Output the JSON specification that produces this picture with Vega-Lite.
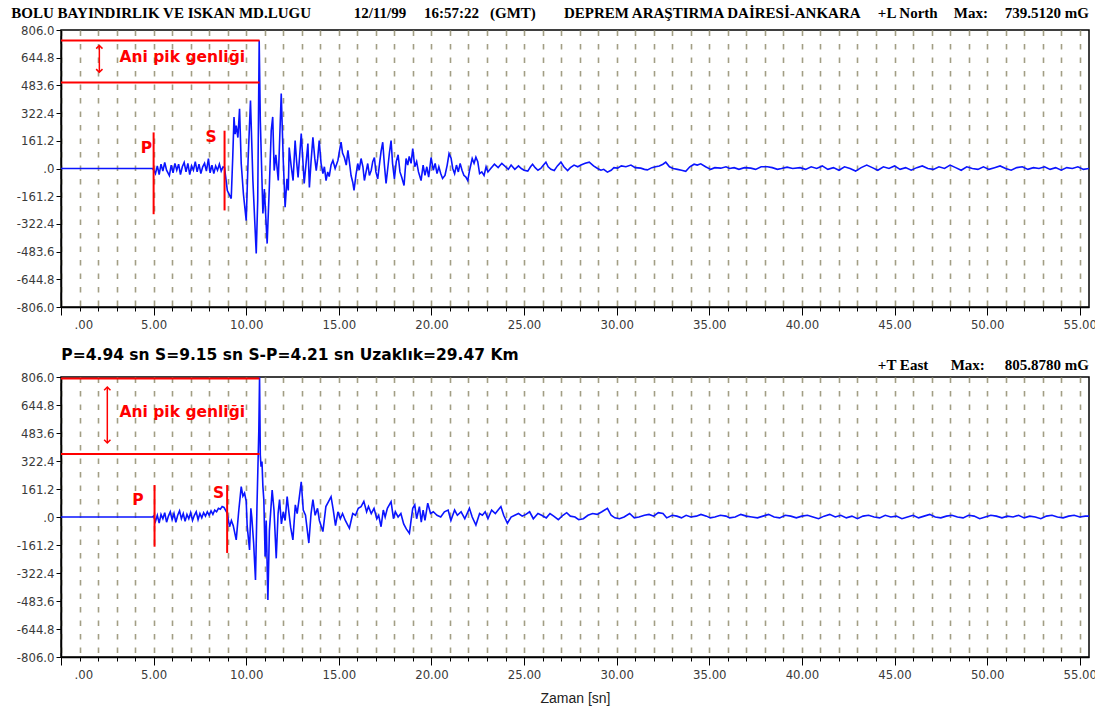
{
"$schema": "https://vega.github.io/schema/vega-lite/v6.json",
"background": "white",
"padding": {"left": 10, "top": 5, "right": 6, "bottom": 5},
"spacing": 70,
"bounds": "flush",
"config": {
  "view": {"stroke": "#000", "strokeWidth": 1.5},
  "axis": {"domainColor": "#000", "domainWidth": 1.5, "tickColor": "#000", "tickWidth": 1, "labelFont": "'Liberation Sans Narrow', 'DejaVu Sans Condensed', sans-serif", "labelFontSize": 13, "labelColor": "#3a3a3a", "labelOverlap": false, "tickCount": 200}
},
"datasets": {
"north": [{"t":0,"v":0},{"t":4.94,"v":0},{"t":5.0,"v":-8},{"t":5.1,"v":-30},{"t":5.2,"v":15},{"t":5.3,"v":-35},{"t":5.4,"v":25},{"t":5.5,"v":-15},{"t":5.6,"v":35},{"t":5.7,"v":-10},{"t":5.85,"v":-41},{"t":5.95,"v":20},{"t":6.05,"v":-25},{"t":6.15,"v":30},{"t":6.25,"v":-10},{"t":6.35,"v":25},{"t":6.45,"v":-35},{"t":6.55,"v":10},{"t":6.65,"v":35},{"t":6.75,"v":-20},{"t":6.85,"v":30},{"t":6.95,"v":-35},{"t":7.05,"v":15},{"t":7.15,"v":-10},{"t":7.25,"v":40},{"t":7.35,"v":-20},{"t":7.45,"v":25},{"t":7.55,"v":-30},{"t":7.65,"v":10},{"t":7.75,"v":30},{"t":7.85,"v":-15},{"t":7.96,"v":58},{"t":8.05,"v":-25},{"t":8.15,"v":20},{"t":8.25,"v":-30},{"t":8.35,"v":15},{"t":8.45,"v":-10},{"t":8.55,"v":25},{"t":8.65,"v":-15},{"t":8.75,"v":10},{"t":8.83,"v":5},{"t":8.98,"v":-128},{"t":9.19,"v":-175},{"t":9.27,"v":60},{"t":9.34,"v":299},{"t":9.4,"v":200},{"t":9.46,"v":250},{"t":9.55,"v":180},{"t":9.64,"v":347},{"t":9.73,"v":29},{"t":9.85,"v":-150},{"t":10.0,"v":-303},{"t":10.1,"v":47},{"t":10.23,"v":396},{"t":10.36,"v":-70},{"t":10.54,"v":-495},{"t":10.62,"v":-186},{"t":10.7,"v":745},{"t":10.76,"v":279},{"t":10.9,"v":-262},{"t":10.98,"v":-120},{"t":11.13,"v":-437},{"t":11.25,"v":-100},{"t":11.35,"v":221},{"t":11.43,"v":300},{"t":11.51,"v":-12},{"t":11.6,"v":80},{"t":11.73,"v":-70},{"t":11.89,"v":436},{"t":12.0,"v":47},{"t":12.1,"v":-225},{"t":12.2,"v":-60},{"t":12.27,"v":-128},{"t":12.32,"v":122},{"t":12.42,"v":20},{"t":12.53,"v":-70},{"t":12.64,"v":163},{"t":12.72,"v":40},{"t":12.8,"v":-52},{"t":12.97,"v":204},{"t":13.05,"v":60},{"t":13.13,"v":-87},{"t":13.23,"v":30},{"t":13.33,"v":145},{"t":13.41,"v":-110},{"t":13.5,"v":40},{"t":13.6,"v":182},{"t":13.7,"v":60},{"t":13.78,"v":-12},{"t":13.86,"v":60},{"t":13.94,"v":163},{"t":14.04,"v":30},{"t":14.14,"v":-29},{"t":14.22,"v":10},{"t":14.31,"v":-70},{"t":14.4,"v":-20},{"t":14.48,"v":-47},{"t":14.58,"v":20},{"t":14.68,"v":47},{"t":14.8,"v":0},{"t":14.95,"v":47},{"t":15.03,"v":100},{"t":15.12,"v":153},{"t":15.2,"v":90},{"t":15.3,"v":64},{"t":15.4,"v":20},{"t":15.49,"v":105},{"t":15.58,"v":30},{"t":15.66,"v":-41},{"t":15.75,"v":-80},{"t":15.82,"v":-128},{"t":15.92,"v":-40},{"t":16.02,"v":29},{"t":16.1,"v":-10},{"t":16.2,"v":58},{"t":16.3,"v":10},{"t":16.38,"v":-70},{"t":16.47,"v":-20},{"t":16.56,"v":29},{"t":16.65,"v":-40},{"t":16.75,"v":-10},{"t":16.83,"v":40},{"t":16.92,"v":64},{"t":17.0,"v":-20},{"t":17.1,"v":-60},{"t":17.2,"v":30},{"t":17.28,"v":100},{"t":17.37,"v":153},{"t":17.46,"v":20},{"t":17.55,"v":-87},{"t":17.64,"v":0},{"t":17.73,"v":90},{"t":17.82,"v":163},{"t":17.9,"v":30},{"t":18.0,"v":-60},{"t":18.1,"v":40},{"t":18.2,"v":80},{"t":18.3,"v":-20},{"t":18.4,"v":-52},{"t":18.52,"v":-99},{"t":18.63,"v":58},{"t":18.72,"v":20},{"t":18.8,"v":70},{"t":18.9,"v":30},{"t":18.99,"v":116},{"t":19.1,"v":10},{"t":19.2,"v":40},{"t":19.3,"v":-20},{"t":19.44,"v":-70},{"t":19.55,"v":20},{"t":19.65,"v":-40},{"t":19.75,"v":10},{"t":19.85,"v":-50},{"t":19.98,"v":64},{"t":20.1,"v":-10},{"t":20.2,"v":30},{"t":20.3,"v":-30},{"t":20.4,"v":10},{"t":20.5,"v":-29},{"t":20.6,"v":-58},{"t":20.73,"v":-40},{"t":20.85,"v":20},{"t":20.95,"v":87},{"t":21.06,"v":60},{"t":21.15,"v":0},{"t":21.25,"v":-30},{"t":21.35,"v":20},{"t":21.45,"v":-20},{"t":21.55,"v":30},{"t":21.65,"v":-10},{"t":21.75,"v":-40},{"t":21.86,"v":-50},{"t":21.96,"v":-70},{"t":22.06,"v":-10},{"t":22.2,"v":58},{"t":22.3,"v":30},{"t":22.4,"v":66},{"t":22.5,"v":40},{"t":22.6,"v":-30},{"t":22.72,"v":-20},{"t":22.84,"v":-41},{"t":22.95,"v":10},{"t":23.05,"v":-20},{"t":23.2,"v":0},{"t":23.4,"v":25},{"t":23.6,"v":5},{"t":23.8,"v":30},{"t":24.0,"v":10},{"t":24.15,"v":-5},{"t":24.3,"v":20},{"t":24.5,"v":-5},{"t":24.7,"v":15},{"t":24.85,"v":0},{"t":25.0,"v":-10},{"t":25.2,"v":-15},{"t":25.35,"v":10},{"t":25.46,"v":25},{"t":25.6,"v":5},{"t":25.75,"v":-10},{"t":25.9,"v":0},{"t":26.05,"v":20},{"t":26.18,"v":37},{"t":26.3,"v":10},{"t":26.45,"v":-5},{"t":26.63,"v":-12},{"t":26.8,"v":15},{"t":26.99,"v":37},{"t":27.15,"v":10},{"t":27.35,"v":-12},{"t":27.5,"v":5},{"t":27.7,"v":20},{"t":27.9,"v":10},{"t":28.07,"v":20},{"t":28.3,"v":30},{"t":28.52,"v":37},{"t":28.75,"v":15},{"t":28.97,"v":0},{"t":29.15,"v":-10},{"t":29.3,"v":-5},{"t":29.5,"v":-21},{"t":29.7,"v":-10},{"t":29.85,"v":5},{"t":30.05,"v":2},{"t":30.25,"v":15},{"t":30.5,"v":10},{"t":30.77,"v":20},{"t":31.0,"v":5},{"t":31.3,"v":2},{"t":31.5,"v":-5},{"t":31.66,"v":-8},{"t":31.9,"v":5},{"t":32.1,"v":10},{"t":32.3,"v":15},{"t":32.5,"v":25},{"t":32.65,"v":37},{"t":32.85,"v":10},{"t":33.05,"v":0},{"t":33.28,"v":-5},{"t":33.5,"v":-10},{"t":33.73,"v":-16},{"t":33.95,"v":10},{"t":34.18,"v":25},{"t":34.35,"v":20},{"t":34.54,"v":27},{"t":34.8,"v":10},{"t":35.08,"v":-5},{"t":35.3,"v":5},{"t":35.62,"v":2},{"t":35.9,"v":10},{"t":36.1,"v":0},{"t":36.34,"v":5},{"t":36.6,"v":-5},{"t":36.9,"v":5},{"t":37.24,"v":2},{"t":37.5,"v":-5},{"t":37.8,"v":10},{"t":38.14,"v":10},{"t":38.4,"v":5},{"t":38.68,"v":-5},{"t":38.9,"v":0},{"t":39.2,"v":8},{"t":39.5,"v":0},{"t":39.9,"v":5},{"t":40.2,"v":-5},{"t":40.5,"v":10},{"t":40.8,"v":0},{"t":41.1,"v":15},{"t":41.4,"v":-5},{"t":41.7,"v":5},{"t":42.0,"v":-10},{"t":42.3,"v":10},{"t":42.6,"v":0},{"t":42.9,"v":-15},{"t":43.2,"v":5},{"t":43.5,"v":20},{"t":43.8,"v":5},{"t":44.1,"v":-10},{"t":44.4,"v":10},{"t":44.7,"v":0},{"t":45.0,"v":15},{"t":45.3,"v":-5},{"t":45.6,"v":5},{"t":45.9,"v":-10},{"t":46.2,"v":5},{"t":46.5,"v":15},{"t":46.8,"v":0},{"t":47.1,"v":-5},{"t":47.4,"v":10},{"t":47.7,"v":0},{"t":48.0,"v":20},{"t":48.3,"v":5},{"t":48.6,"v":-10},{"t":48.9,"v":10},{"t":49.2,"v":0},{"t":49.5,"v":-5},{"t":49.8,"v":10},{"t":50.1,"v":-5},{"t":50.4,"v":5},{"t":50.7,"v":15},{"t":51.0,"v":0},{"t":51.3,"v":-10},{"t":51.6,"v":5},{"t":51.9,"v":10},{"t":52.2,"v":-5},{"t":52.5,"v":5},{"t":52.8,"v":0},{"t":53.1,"v":10},{"t":53.4,"v":-5},{"t":53.7,"v":5},{"t":54.0,"v":-10},{"t":54.3,"v":5},{"t":54.6,"v":0},{"t":54.9,"v":10},{"t":55.2,"v":-5},{"t":55.5,"v":0}],
"east": [{"t":0,"v":0},{"t":4.94,"v":0},{"t":5.0,"v":5},{"t":5.1,"v":-25},{"t":5.2,"v":10},{"t":5.3,"v":-35},{"t":5.4,"v":15},{"t":5.5,"v":-10},{"t":5.6,"v":25},{"t":5.7,"v":-30},{"t":5.8,"v":5},{"t":5.9,"v":30},{"t":6.0,"v":-15},{"t":6.1,"v":20},{"t":6.2,"v":-30},{"t":6.3,"v":10},{"t":6.4,"v":35},{"t":6.5,"v":-10},{"t":6.6,"v":20},{"t":6.7,"v":-25},{"t":6.8,"v":15},{"t":6.9,"v":-10},{"t":7.0,"v":25},{"t":7.1,"v":-20},{"t":7.2,"v":10},{"t":7.3,"v":30},{"t":7.4,"v":-15},{"t":7.5,"v":20},{"t":7.6,"v":-5},{"t":7.7,"v":25},{"t":7.8,"v":5},{"t":7.9,"v":30},{"t":8.0,"v":10},{"t":8.1,"v":35},{"t":8.2,"v":15},{"t":8.3,"v":40},{"t":8.4,"v":30},{"t":8.5,"v":50},{"t":8.6,"v":45},{"t":8.7,"v":60},{"t":8.8,"v":55},{"t":8.97,"v":23},{"t":9.1,"v":-56},{"t":9.2,"v":-20},{"t":9.3,"v":-50},{"t":9.46,"v":-132},{"t":9.6,"v":40},{"t":9.73,"v":175},{"t":9.82,"v":120},{"t":9.91,"v":138},{"t":10.0,"v":90},{"t":10.05,"v":-50},{"t":10.18,"v":-190},{"t":10.25,"v":50},{"t":10.3,"v":0},{"t":10.4,"v":-150},{"t":10.5,"v":-363},{"t":10.58,"v":60},{"t":10.68,"v":500},{"t":10.72,"v":806},{"t":10.76,"v":357},{"t":10.8,"v":290},{"t":10.85,"v":320},{"t":10.9,"v":175},{"t":10.95,"v":100},{"t":11.02,"v":-228},{"t":11.08,"v":-20},{"t":11.17,"v":-478},{"t":11.25,"v":-80},{"t":11.4,"v":155},{"t":11.5,"v":40},{"t":11.62,"v":-238},{"t":11.72,"v":20},{"t":11.8,"v":100},{"t":11.9,"v":-40},{"t":12.0,"v":30},{"t":12.1,"v":-20},{"t":12.21,"v":117},{"t":12.3,"v":30},{"t":12.4,"v":-60},{"t":12.52,"v":-132},{"t":12.65,"v":70},{"t":12.75,"v":20},{"t":12.85,"v":100},{"t":12.97,"v":203},{"t":13.08,"v":40},{"t":13.2,"v":10},{"t":13.38,"v":-150},{"t":13.5,"v":20},{"t":13.6,"v":100},{"t":13.72,"v":10},{"t":13.85,"v":50},{"t":13.95,"v":-20},{"t":14.14,"v":-84},{"t":14.3,"v":60},{"t":14.45,"v":90},{"t":14.58,"v":117},{"t":14.7,"v":40},{"t":14.82,"v":-50},{"t":14.95,"v":30},{"t":15.08,"v":-10},{"t":15.2,"v":20},{"t":15.35,"v":-20},{"t":15.57,"v":-65},{"t":15.75,"v":20},{"t":15.9,"v":10},{"t":16.05,"v":50},{"t":16.2,"v":60},{"t":16.35,"v":90},{"t":16.5,"v":30},{"t":16.6,"v":60},{"t":16.75,"v":20},{"t":16.9,"v":50},{"t":17.05,"v":-10},{"t":17.15,"v":10},{"t":17.28,"v":-56},{"t":17.4,"v":40},{"t":17.5,"v":0},{"t":17.62,"v":50},{"t":17.82,"v":88},{"t":17.95,"v":-10},{"t":18.05,"v":30},{"t":18.2,"v":0},{"t":18.35,"v":20},{"t":18.5,"v":-40},{"t":18.65,"v":-70},{"t":18.81,"v":-94},{"t":18.9,"v":-20},{"t":18.99,"v":50},{"t":19.1,"v":70},{"t":19.2,"v":-10},{"t":19.35,"v":60},{"t":19.45,"v":-30},{"t":19.55,"v":40},{"t":19.65,"v":-20},{"t":19.8,"v":80},{"t":19.95,"v":20},{"t":20.1,"v":30},{"t":20.3,"v":10},{"t":20.5,"v":0},{"t":20.7,"v":30},{"t":20.9,"v":40},{"t":21.05,"v":-20},{"t":21.25,"v":40},{"t":21.4,"v":10},{"t":21.6,"v":30},{"t":21.8,"v":-10},{"t":22.05,"v":50},{"t":22.2,"v":0},{"t":22.4,"v":-46},{"t":22.6,"v":20},{"t":22.75,"v":10},{"t":22.9,"v":30},{"t":23.05,"v":-10},{"t":23.25,"v":40},{"t":23.45,"v":20},{"t":23.6,"v":40},{"t":23.75,"v":60},{"t":23.9,"v":10},{"t":24.1,"v":-36},{"t":24.3,"v":0},{"t":24.5,"v":10},{"t":24.7,"v":20},{"t":24.9,"v":5},{"t":25.1,"v":15},{"t":25.3,"v":30},{"t":25.5,"v":-10},{"t":25.75,"v":20},{"t":25.95,"v":10},{"t":26.2,"v":-5},{"t":26.4,"v":20},{"t":26.6,"v":5},{"t":26.85,"v":-15},{"t":27.1,"v":10},{"t":27.3,"v":25},{"t":27.5,"v":5},{"t":27.75,"v":0},{"t":27.95,"v":-15},{"t":28.2,"v":-10},{"t":28.45,"v":10},{"t":28.7,"v":20},{"t":28.95,"v":15},{"t":29.2,"v":30},{"t":29.5,"v":50},{"t":29.7,"v":10},{"t":29.9,"v":-5},{"t":30.15,"v":-10},{"t":30.4,"v":0},{"t":30.7,"v":20},{"t":30.95,"v":-5},{"t":31.2,"v":0},{"t":31.5,"v":10},{"t":31.75,"v":15},{"t":32.0,"v":5},{"t":32.25,"v":25},{"t":32.5,"v":20},{"t":32.7,"v":-5},{"t":33.0,"v":10},{"t":33.25,"v":5},{"t":33.5,"v":-5},{"t":33.75,"v":10},{"t":34.0,"v":0},{"t":34.3,"v":5},{"t":34.55,"v":15},{"t":34.85,"v":5},{"t":35.05,"v":-5},{"t":35.3,"v":0},{"t":35.6,"v":10},{"t":35.9,"v":5},{"t":36.1,"v":-5},{"t":36.4,"v":0},{"t":36.7,"v":15},{"t":37.0,"v":5},{"t":37.3,"v":0},{"t":37.6,"v":-5},{"t":37.9,"v":5},{"t":38.2,"v":15},{"t":38.5,"v":0},{"t":38.8,"v":-5},{"t":39.1,"v":10},{"t":39.4,"v":5},{"t":39.7,"v":-5},{"t":40.0,"v":5},{"t":40.3,"v":10},{"t":40.6,"v":0},{"t":40.9,"v":-10},{"t":41.2,"v":5},{"t":41.5,"v":15},{"t":41.8,"v":0},{"t":42.1,"v":10},{"t":42.4,"v":-5},{"t":42.7,"v":5},{"t":43.0,"v":-10},{"t":43.3,"v":5},{"t":43.6,"v":10},{"t":43.9,"v":0},{"t":44.2,"v":-5},{"t":44.5,"v":10},{"t":44.8,"v":0},{"t":45.1,"v":5},{"t":45.4,"v":-10},{"t":45.7,"v":0},{"t":46.0,"v":10},{"t":46.3,"v":-5},{"t":46.6,"v":5},{"t":46.9,"v":15},{"t":47.2,"v":0},{"t":47.5,"v":-5},{"t":47.8,"v":5},{"t":48.1,"v":10},{"t":48.4,"v":0},{"t":48.7,"v":-5},{"t":49.0,"v":10},{"t":49.3,"v":5},{"t":49.6,"v":-10},{"t":49.9,"v":0},{"t":50.2,"v":10},{"t":50.5,"v":5},{"t":50.8,"v":-5},{"t":51.1,"v":5},{"t":51.4,"v":0},{"t":51.7,"v":10},{"t":52.0,"v":-5},{"t":52.3,"v":5},{"t":52.6,"v":0},{"t":52.9,"v":-10},{"t":53.2,"v":5},{"t":53.5,"v":10},{"t":53.8,"v":0},{"t":54.1,"v":-5},{"t":54.4,"v":5},{"t":54.7,"v":10},{"t":55.0,"v":0},{"t":55.3,"v":5},{"t":55.5,"v":5}]
},
"vconcat": [
{
  "width": 1028, "height": 277,
  "layer": [
    {"data": {"name": "north"},
     "mark": {"type": "line", "color": "#0a14ff", "strokeWidth": 1.6, "clip": true},
     "encoding": {
       "x": {"field": "t", "type": "quantitative", "title": null, "scale": {"domain": [0, 55.5], "nice": false, "zero": false},
             "axis": {"title": null, "tickCount": 200, "values": [0,1,2,3,4,5,6,7,8,9,10,11,12,13,14,15,16,17,18,19,20,21,22,23,24,25,26,27,28,29,30,31,32,33,34,35,36,37,38,39,40,41,42,43,44,45,46,47,48,49,50,51,52,53,54,55],
                      "labelExpr": "datum.value === 0 ? '.00' : (datum.value % 5 === 0 ? format(datum.value, '.2f') : '')",
                      "tickSize": {"condition": {"test": "datum.value % 5 === 0", "value": 8}, "value": 4},
                      "grid": true, "gridDash": [5.5, 8], "gridColor": "#a29e84", "gridWidth": 1.6,
                      "labelPadding": 3, "labelFlush": 1, "labelFlushOffset": -13}},
       "y": {"field": "v", "type": "quantitative", "title": null, "scale": {"domain": [-806, 806], "nice": false, "zero": false},
             "axis": {"title": null, "tickCount": 200, "values": [-806,-644.8,-483.6,-322.4,-161.2,0,161.2,322.4,483.6,644.8,806],
                      "labelExpr": "datum.value === 0 ? '.0' : ((datum.value < 0 ? '-' : '') + format(abs(datum.value), '.1f'))",
                      "tickSize": 5, "labelPadding": 2, "grid": false}}
     }},
    {"data": {"values": [{"t": 5.0, "lo": -266, "hi": 210}, {"t": 8.83, "lo": -244, "hi": 220}]},
     "mark": {"type": "rule", "color": "#ff0000", "strokeWidth": 2},
     "encoding": {"x": {"field": "t", "type": "quantitative"}, "y": {"field": "lo", "type": "quantitative"}, "y2": {"field": "hi"}}},
    {"data": {"values": [{"t0": 0, "t1": 10.72, "v": 745}, {"t0": 0, "t1": 10.72, "v": 500}]},
     "mark": {"type": "rule", "color": "#ff0000", "strokeWidth": 2},
     "encoding": {"x": {"field": "t0", "type": "quantitative"}, "x2": {"field": "t1"}, "y": {"field": "v", "type": "quantitative"}}},
    {"data": {"values": [{"t": 2.07, "lo": 560, "hi": 716}]},
     "mark": {"type": "rule", "color": "#ff0000", "strokeWidth": 1.5},
     "encoding": {"x": {"field": "t", "type": "quantitative"}, "y": {"field": "lo", "type": "quantitative"}, "y2": {"field": "hi"}}},
    {"data": {"values": [{"t": 2.07, "v": 716, "dir": "up"}, {"t": 2.07, "v": 560, "dir": "down"}]},
     "mark": {"type": "point", "filled": false, "color": "#ff0000", "strokeWidth": 1.5, "size": 40, "opacity": 1},
     "encoding": {"x": {"field": "t", "type": "quantitative"}, "y": {"field": "v", "type": "quantitative"},
                  "shape": {"field": "dir", "type": "nominal", "scale": {"domain": ["up", "down"], "range": ["M-1,1L0,0L1,1", "M-1,-1L0,0L1,-1"]}, "legend": null}}},
    {"data": {"values": [{"label": "P", "t": 4.3, "v": 120}, {"label": "S", "t": 7.8, "v": 185}, {"label": "Ani pik genliği", "t": 3.16, "v": 646}]},
     "mark": {"type": "text", "color": "#ff0000", "font": "DejaVu Sans", "fontWeight": "bold", "fontSize": 15.5, "align": "left", "baseline": "middle"},
     "encoding": {"x": {"field": "t", "type": "quantitative"}, "y": {"field": "v", "type": "quantitative"}, "text": {"field": "label"}}},
    {"data": {"values": [{"label": "BOLU BAYINDIRLIK VE ISKAN MD.LUGU", "t": -2.68}, {"label": "12/11/99", "t": 15.8}, {"label": "16:57:22", "t": 19.6}, {"label": "(GMT)", "t": 23.16}, {"label": "DEPREM ARAŞTIRMA DAİRESİ-ANKARA", "t": 27.15}, {"label": "+L North", "t": 44.1}, {"label": "Max:", "t": 48.2}]},
     "mark": {"type": "text", "color": "#000", "font": "Liberation Serif", "fontWeight": "bold", "fontSize": 15, "align": "left", "baseline": "middle"},
     "encoding": {"x": {"field": "t", "type": "quantitative"}, "y": {"datum": 905, "type": "quantitative"}, "text": {"field": "label"}}},
    {"data": {"values": [{"label": "739.5120 mG", "t": 55.5}]},
     "mark": {"type": "text", "color": "#000", "font": "Liberation Serif", "fontWeight": "bold", "fontSize": 15, "align": "right", "baseline": "middle"},
     "encoding": {"x": {"field": "t", "type": "quantitative"}, "y": {"datum": 905, "type": "quantitative"}, "text": {"field": "label"}}}
  ]
},
{
  "width": 1028, "height": 280,
  "layer": [
    {"data": {"name": "east"},
     "mark": {"type": "line", "color": "#0a14ff", "strokeWidth": 1.6, "clip": true},
     "encoding": {
       "x": {"field": "t", "type": "quantitative", "title": "Zaman [sn]", "scale": {"domain": [0, 55.5], "nice": false, "zero": false},
             "axis": {"title": "Zaman [sn]", "titleFont": "Liberation Sans", "titleFontSize": 14, "titleFontWeight": "normal", "titleColor": "#222", "titlePadding": 10, "tickCount": 200,
                      "values": [0,1,2,3,4,5,6,7,8,9,10,11,12,13,14,15,16,17,18,19,20,21,22,23,24,25,26,27,28,29,30,31,32,33,34,35,36,37,38,39,40,41,42,43,44,45,46,47,48,49,50,51,52,53,54,55],
                      "labelExpr": "datum.value === 0 ? '.00' : (datum.value % 5 === 0 ? format(datum.value, '.2f') : '')",
                      "tickSize": {"condition": {"test": "datum.value % 5 === 0", "value": 8}, "value": 4},
                      "grid": true, "gridDash": [5.5, 8], "gridColor": "#a29e84", "gridWidth": 1.6,
                      "labelPadding": 3, "labelFlush": 1, "labelFlushOffset": -13}},
       "y": {"field": "v", "type": "quantitative", "title": null, "scale": {"domain": [-806, 806], "nice": false, "zero": false},
             "axis": {"title": null, "tickCount": 200, "values": [-806,-644.8,-483.6,-322.4,-161.2,0,161.2,322.4,483.6,644.8,806],
                      "labelExpr": "datum.value === 0 ? '.0' : ((datum.value < 0 ? '-' : '') + format(abs(datum.value), '.1f'))",
                      "tickSize": 5, "labelPadding": 2, "grid": false}}
     }},
    {"data": {"values": [{"t": 5.05, "lo": -171, "hi": 184}, {"t": 8.97, "lo": -207, "hi": 184}]},
     "mark": {"type": "rule", "color": "#ff0000", "strokeWidth": 2},
     "encoding": {"x": {"field": "t", "type": "quantitative"}, "y": {"field": "lo", "type": "quantitative"}, "y2": {"field": "hi"}}},
    {"data": {"values": [{"t0": 0, "t1": 10.72, "v": 798}, {"t0": 0, "t1": 10.72, "v": 363}]},
     "mark": {"type": "rule", "color": "#ff0000", "strokeWidth": 2},
     "encoding": {"x": {"field": "t0", "type": "quantitative"}, "x2": {"field": "t1"}, "y": {"field": "v", "type": "quantitative"}}},
    {"data": {"values": [{"t": 2.5, "lo": 426, "hi": 748}]},
     "mark": {"type": "rule", "color": "#ff0000", "strokeWidth": 1.5},
     "encoding": {"x": {"field": "t", "type": "quantitative"}, "y": {"field": "lo", "type": "quantitative"}, "y2": {"field": "hi"}}},
    {"data": {"values": [{"t": 2.5, "v": 748, "dir": "up"}, {"t": 2.5, "v": 426, "dir": "down"}]},
     "mark": {"type": "point", "filled": false, "color": "#ff0000", "strokeWidth": 1.5, "size": 40, "opacity": 1},
     "encoding": {"x": {"field": "t", "type": "quantitative"}, "y": {"field": "v", "type": "quantitative"},
                  "shape": {"field": "dir", "type": "nominal", "scale": {"domain": ["up", "down"], "range": ["M-1,1L0,0L1,1", "M-1,-1L0,0L1,-1"]}, "legend": null}}},
    {"data": {"values": [{"label": "P", "t": 3.85, "v": 100}, {"label": "S", "t": 8.2, "v": 140}, {"label": "Ani pik genliği", "t": 3.16, "v": 604}]},
     "mark": {"type": "text", "color": "#ff0000", "font": "DejaVu Sans", "fontWeight": "bold", "fontSize": 15.5, "align": "left", "baseline": "middle"},
     "encoding": {"x": {"field": "t", "type": "quantitative"}, "y": {"field": "v", "type": "quantitative"}, "text": {"field": "label"}}},
    {"data": {"values": [{"label": "P=4.94 sn S=9.15 sn S-P=4.21 sn Uzaklık=29.47 Km", "t": 0.02}]},
     "mark": {"type": "text", "color": "#000", "font": "DejaVu Sans", "fontWeight": "bold", "fontSize": 15.5, "align": "left", "baseline": "middle"},
     "encoding": {"x": {"field": "t", "type": "quantitative"}, "y": {"datum": 933, "type": "quantitative"}, "text": {"field": "label"}}},
    {"data": {"values": [{"label": "+T East", "t": 44.1}, {"label": "Max:", "t": 48.03}]},
     "mark": {"type": "text", "color": "#000", "font": "Liberation Serif", "fontWeight": "bold", "fontSize": 15, "align": "left", "baseline": "middle"},
     "encoding": {"x": {"field": "t", "type": "quantitative"}, "y": {"datum": 875, "type": "quantitative"}, "text": {"field": "label"}}},
    {"data": {"values": [{"label": "805.8780 mG", "t": 55.5}]},
     "mark": {"type": "text", "color": "#000", "font": "Liberation Serif", "fontWeight": "bold", "fontSize": 15, "align": "right", "baseline": "middle"},
     "encoding": {"x": {"field": "t", "type": "quantitative"}, "y": {"datum": 875, "type": "quantitative"}, "text": {"field": "label"}}}
  ]
}
]
}
